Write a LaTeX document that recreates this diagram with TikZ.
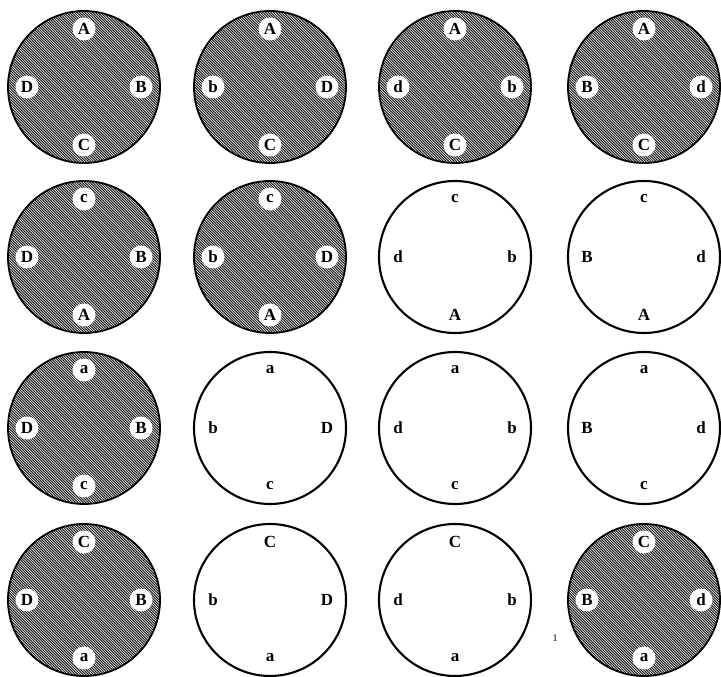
\documentclass[tikz,border=0pt]{standalone}
\usepackage{fontspec}
\setmainfont{Liberation Serif}
\tikzset{
  x=1pt, y=-1pt,
  rim/.style={draw=black, line width=1.8pt, circle, minimum size=152pt, inner sep=0pt},
  hatch/.style={line width=1.05pt, black!85},
  lab/.style={font=\fontsize{17}{17}\selectfont\bfseries, inner sep=0pt},
  halo/.style={circle, fill=white, minimum size=23pt},
}
\newcommand\shadedDisc[6]{%
  \begin{scope}[shift={(#2)}]
    \begin{scope}
      \clip (0,0) circle (76);
      \foreach \k in {-43,...,43} \draw[hatch] ({\k*2.6-95},-95) -- ++(190,190);
    \end{scope}
    \node[rim] (#1) at (0,0) {};
    \node[lab,halo] (#1-t) at (0,-58) {#3};
    \node[lab,halo] (#1-r) at (57,0) {#4};
    \node[lab,halo] (#1-b) at (0,58) {#5};
    \node[lab,halo] (#1-l) at (-57,0) {#6};
  \end{scope}}
\newcommand\openDisc[6]{%
  \begin{scope}[shift={(#2)}]
    \node[rim, line width=2.1pt] (#1) at (0,0) {};
    \node[lab] (#1-t) at (0,-58) {#3};
    \node[lab] (#1-r) at (57,0) {#4};
    \node[lab] (#1-b) at (0,58) {#5};
    \node[lab] (#1-l) at (-57,0) {#6};
  \end{scope}}
\begin{document}
\begin{tikzpicture}
  \useasboundingbox (0,0) rectangle (721,677);
  % row 1
  \shadedDisc{d11}{84,87}{A}{B}{C}{D}
  \shadedDisc{d12}{270,87}{A}{D}{C}{b}
  \shadedDisc{d13}{455,87}{A}{b}{C}{d}
  \shadedDisc{d14}{644,87}{A}{d}{C}{B}
  % row 2
  \shadedDisc{d21}{84,257}{c}{B}{A}{D}
  \shadedDisc{d22}{270,257}{c}{D}{A}{b}
  \openDisc{d23}{455,257}{c}{b}{A}{d}
  \openDisc{d24}{644,257}{c}{d}{A}{B}
  % row 3
  \shadedDisc{d31}{84,428}{a}{B}{c}{D}
  \openDisc{d32}{270,428}{a}{D}{c}{b}
  \openDisc{d33}{455,428}{a}{b}{c}{d}
  \openDisc{d34}{644,428}{a}{d}{c}{B}
  % row 4
  \shadedDisc{d41}{84,600}{C}{B}{a}{D}
  \openDisc{d42}{270,600}{C}{D}{a}{b}
  \openDisc{d43}{455,600}{C}{b}{a}{d}
  \shadedDisc{d44}{644,600}{C}{d}{a}{B}
  \node[font=\fontsize{10}{10}\selectfont, inner sep=0pt] (one) at (555,638) {1};
\end{tikzpicture}
\end{document}
